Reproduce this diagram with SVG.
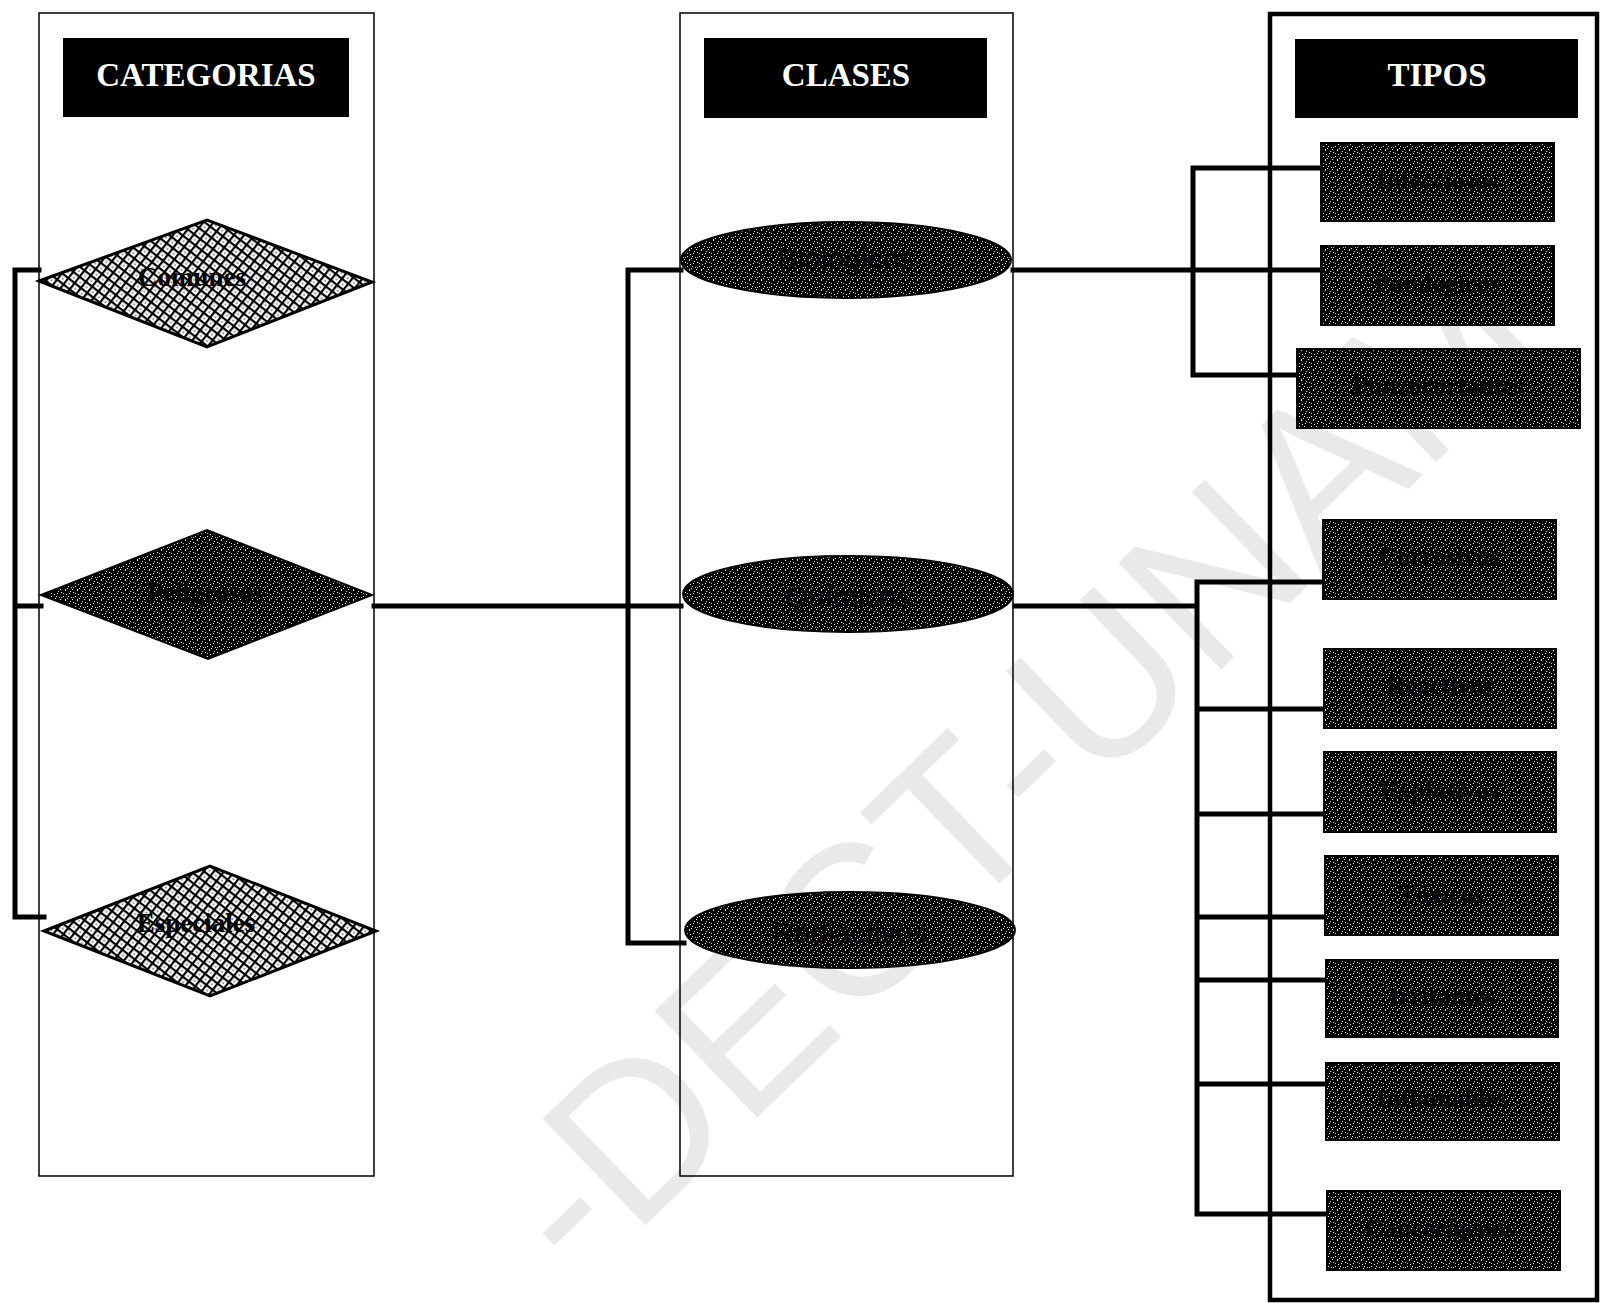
<svg xmlns="http://www.w3.org/2000/svg" width="1601" height="1303" viewBox="0 0 1601 1303">
<defs>
<pattern id="hatch" width="8" height="8" patternUnits="userSpaceOnUse" patternTransform="rotate(38)">
<rect width="8" height="8" fill="#fff"/>
<rect x="0" y="0" width="8" height="2.2" fill="#000"/>
<rect x="0" y="0" width="2.2" height="8" fill="#000"/>
<rect x="4.5" y="4.5" width="1.2" height="1.2" fill="#000"/>
</pattern>
<pattern id="speck" width="12" height="10" patternUnits="userSpaceOnUse">
<rect width="12" height="10" fill="#000"/>
<rect x="1" y="2" width="1" height="1" fill="#fff"/>
<rect x="5" y="0" width="1" height="1" fill="#ddd"/>
<rect x="9" y="3" width="1" height="1" fill="#fff"/>
<rect x="3" y="6" width="1" height="1" fill="#eee"/>
<rect x="7" y="8" width="1" height="1" fill="#fff"/>
<rect x="11" y="7" width="1" height="1" fill="#ccc"/>
<rect x="0" y="9" width="1" height="1" fill="#fff"/>
<rect x="10" y="1" width="1" height="1" fill="#ddd"/>
<rect x="6" y="4" width="1" height="1" fill="#fff"/>
<rect x="3" y="3" width="1" height="1" fill="#bbb"/>
<rect x="8" y="6" width="1" height="1" fill="#eee"/>
<rect x="1" y="7" width="1" height="1" fill="#ccc"/>
<rect x="5" y="9" width="1" height="1" fill="#ddd"/>
</pattern>
</defs>
<style>
.col{fill:none;stroke:#000;stroke-width:1.5}
.frame{fill:none;stroke:#000;stroke-width:4.5}
.hdr{fill:#000}
.htxt{font-family:"Liberation Serif",serif;font-weight:bold;font-size:33px;fill:#fff;text-anchor:middle}
.lbl{font-family:"Liberation Serif",serif;font-weight:bold;font-size:26px;fill:#000;text-anchor:middle;dominant-baseline:central}
.dtxt{font-family:"Liberation Serif",serif;font-weight:bold;font-size:27px;fill:#000;text-anchor:middle;dominant-baseline:central}
.etxt{font-family:"Liberation Sans",sans-serif;font-size:30px;fill:#000;text-anchor:middle;dominant-baseline:central}
.hatchd{fill:url(#hatch);stroke:#000;stroke-width:3}
.dark{fill:url(#speck);stroke:#000;stroke-width:2}
.conn{fill:none;stroke:#000;stroke-width:5;stroke-linecap:square}
.wm{font-family:"Liberation Sans",sans-serif;font-size:215px;fill:#e9e9e9;text-anchor:middle;dominant-baseline:central}
</style>
<rect width="1601" height="1303" fill="#fff"/>
<text class="wm" transform="translate(1015,765) rotate(-44)">-DECT-UNAM</text>

<g id="col-categorias">
<rect class="col" x="39" y="13" width="335" height="1163"/>
<rect class="hdr" x="63" y="38" width="286" height="79"/>
<text class="htxt" x="206" y="86">CATEGORIAS</text>
</g>
<g id="col-clases">
<rect class="col" x="680" y="13" width="333" height="1163"/>
<rect class="hdr" x="704" y="38" width="283" height="80"/>
<text class="htxt" x="846" y="86">CLASES</text>
</g>
<g id="col-tipos">
<rect class="frame" x="1270" y="14" width="327" height="1286"/>
<rect class="hdr" x="1295" y="39" width="283" height="79"/>
<text class="htxt" x="1437" y="86">TIPOS</text>
</g>

<g id="connectors">
<path class="conn" d="M39,270 H15 V917 H44 M15,606 H41"/>
<path class="conn" d="M374,606 H628 M681,270 H628 V943 H684 M628,606 H681"/>
<path class="conn" d="M1013,270 H1321 M1321,168 H1193 V375 H1297"/>
<path class="conn" d="M1015,606 H1197 M1323,582 H1197 V1214 H1327 M1197,709 H1324 M1197,814 H1324 M1197,917 H1325 M1197,980 H1326 M1197,1084 H1326"/>
</g>

<g id="cat-comunes">
<polygon class="hatchd" points="39,281 207,220 372,282 207,347"/>
<text class="dtxt" x="192" y="277">Comunes</text>
</g>
<g id="cat-peligrosos">
<polygon class="dark" points="41,595 207,530 372,595 208,659"/>
<text class="dtxt" x="205" y="592">Peligrosos</text>
</g>
<g id="cat-especiales">
<polygon class="hatchd" points="44,931 210,866 376,931 210,996"/>
<text class="dtxt" x="196" y="923">Especiales</text>
</g>

<g id="cls-biologicos">
<ellipse class="dark" cx="846" cy="260" rx="165" ry="38"/>
<text class="etxt" x="846" y="258">Biológicos</text>
</g>
<g id="cls-quimicos">
<ellipse class="dark" cx="848" cy="594" rx="165" ry="38"/>
<text class="etxt" x="848" y="596">Químicos</text>
</g>
<g id="cls-radiactivos">
<ellipse class="dark" cx="850" cy="930" rx="165" ry="38"/>
<text class="etxt" x="850" y="932">Radiactivos</text>
</g>

<g id="t-infecciosos"><rect class="dark" x="1321" y="143" width="233" height="78"/><text class="lbl" x="1437" y="180">Infecciosos</text></g>
<g id="t-patologicos"><rect class="dark" x="1321" y="246" width="233" height="79"/><text class="lbl" x="1437" y="283">Patológicos</text></g>
<g id="t-punzocortantes"><rect class="dark" x="1297" y="349" width="283" height="79"/><text class="lbl" x="1438" y="385">Punzocortantes</text></g>
<g id="t-corrosivos"><rect class="dark" x="1323" y="520" width="233" height="79"/><text class="lbl" x="1439" y="556">Corrosivos</text></g>
<g id="t-reactivos"><rect class="dark" x="1324" y="649" width="232" height="79"/><text class="lbl" x="1440" y="685">Reactivos</text></g>
<g id="t-explosivos"><rect class="dark" x="1324" y="752" width="232" height="80"/><text class="lbl" x="1440" y="790">Explosivos</text></g>
<g id="t-toxicos"><rect class="dark" x="1325" y="856" width="233" height="79"/><text class="lbl" x="1441" y="894">Tóxicos</text></g>
<g id="t-irritantes"><rect class="dark" x="1326" y="960" width="232" height="77"/><text class="lbl" x="1442" y="996">Irritantes</text></g>
<g id="t-inflamables"><rect class="dark" x="1326" y="1063" width="233" height="77"/><text class="lbl" x="1442" y="1098">Inflamables</text></g>
<g id="t-cancerigenos"><rect class="dark" x="1327" y="1191" width="233" height="79"/><text class="lbl" x="1440" y="1228">Cancerígenos</text></g>
</svg>
